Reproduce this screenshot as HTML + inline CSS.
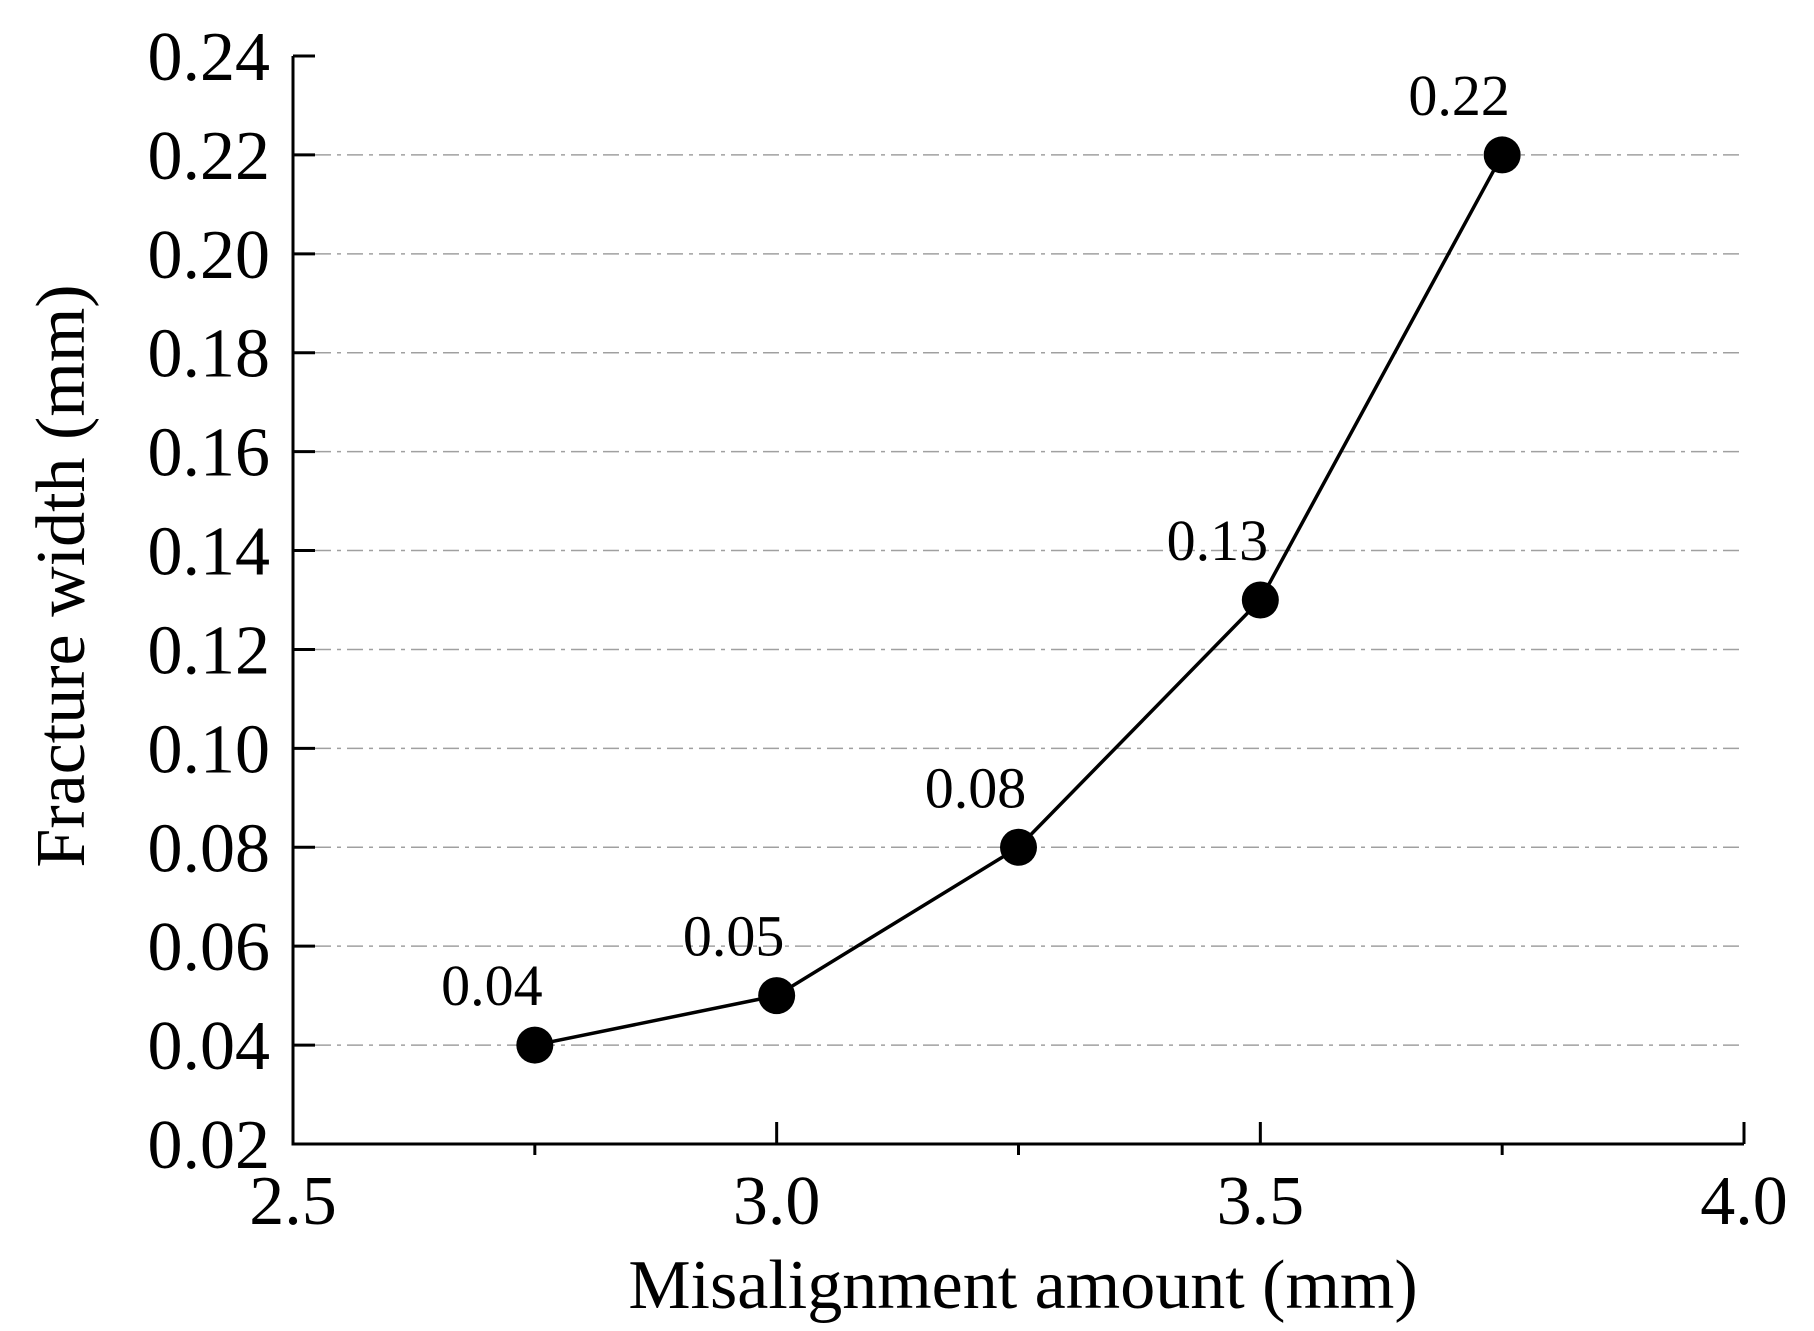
<!DOCTYPE html>
<html><head><meta charset="utf-8"><style>
html,body{margin:0;padding:0;background:#fff;}
svg{display:block;font-family:"Liberation Serif",serif;}
</style></head><body>
<svg id="chart" width="1814" height="1331" viewBox="0 0 1814 1331" xmlns="http://www.w3.org/2000/svg"></svg>
<script>
const xValues = [2.75, 3.0, 3.25, 3.5, 3.75];
const yValues = [0.04, 0.05, 0.08, 0.13, 0.22];
const pointLabels = ["0.04", "0.05", "0.08", "0.13", "0.22"];
const yTicks = [0.02, 0.04, 0.06, 0.08, 0.10, 0.12, 0.14, 0.16, 0.18, 0.20, 0.22, 0.24];
const yTickLabels = ["0.02","0.04","0.06","0.08","0.10","0.12","0.14","0.16","0.18","0.20","0.22","0.24"];
const xMajorTicks = [2.5, 3.0, 3.5, 4.0];
const xMajorLabels = ["2.5","3.0","3.5","4.0"];
const xMinorTicks = [2.75, 3.25, 3.75];

const L=293,R=1744,T=56,B=1144;
const xs=v=>L+(v-2.5)/(4.0-2.5)*(R-L);
const ys=v=>B-(v-0.02)/(0.24-0.02)*(B-T);
const svg=document.getElementById('chart');
const NS='http://www.w3.org/2000/svg';
function mk(tag,attrs,parent){const e=document.createElementNS(NS,tag);for(const k in attrs)e.setAttribute(k,attrs[k]);(parent||svg).appendChild(e);return e;}

yTicks.forEach((v,i)=>{
  if(i===0||v>=0.235) return;
  const g=mk('line',{x1:L+22,x2:R,y1:ys(v),y2:ys(v),stroke:'#a0a0a0','stroke-width':1.5,'stroke-dasharray':'16,6,4,6'});
  
  
});
const ax=mk('path',{d:`M${L},${T} L${L},${B} L${R},${B}`,fill:'none',stroke:'#000','stroke-width':3});


yTicks.forEach((v,i)=>{
  const y=ys(v);
  mk('line',{x1:L,x2:L+22,y1:y,y2:y,stroke:'#000','stroke-width':3});
  const t=mk('text',{x:270,y:y+24,'text-anchor':'end','font-size':70,fill:'#000'});
  t.textContent=yTickLabels[i];
  
  
});
xMajorTicks.forEach((v,i)=>{
  const x=xs(v);
  mk('line',{x1:x,x2:x,y1:B,y2:B-22,stroke:'#000','stroke-width':3});
  const t=mk('text',{x:x,y:1224,'text-anchor':'middle','font-size':70,fill:'#000'});
  t.textContent=xMajorLabels[i];
  
  
});
xMinorTicks.forEach(v=>{
  const x=xs(v);
  mk('line',{x1:x,x2:x,y1:B,y2:B+11,stroke:'#000','stroke-width':3});
});
const pts=xValues.map((v,i)=>xs(v)+','+ys(yValues[i])).join(' ');
const pl=mk('polyline',{points:pts,fill:'none',stroke:'#000','stroke-width':3.5});


xValues.forEach((v,i)=>{
  const c=mk('circle',{cx:xs(v),cy:ys(yValues[i]),r:18.5,fill:'#000'});
  
  
  const t=mk('text',{x:xs(v)-43,y:ys(yValues[i])-40,'text-anchor':'middle','font-size':58,fill:'#000'});
  t.textContent=pointLabels[i];
  
  
});
const xt=mk('text',{x:1023,y:1308,'text-anchor':'middle','font-size':70,fill:'#000'});
xt.textContent='Misalignment amount (mm)';


const yt=mk('text',{x:0,y:0,'text-anchor':'middle','font-size':70,fill:'#000',transform:'translate(84,576) rotate(-90)'});
yt.textContent='Fracture width (mm)';


</script>
</body></html>
